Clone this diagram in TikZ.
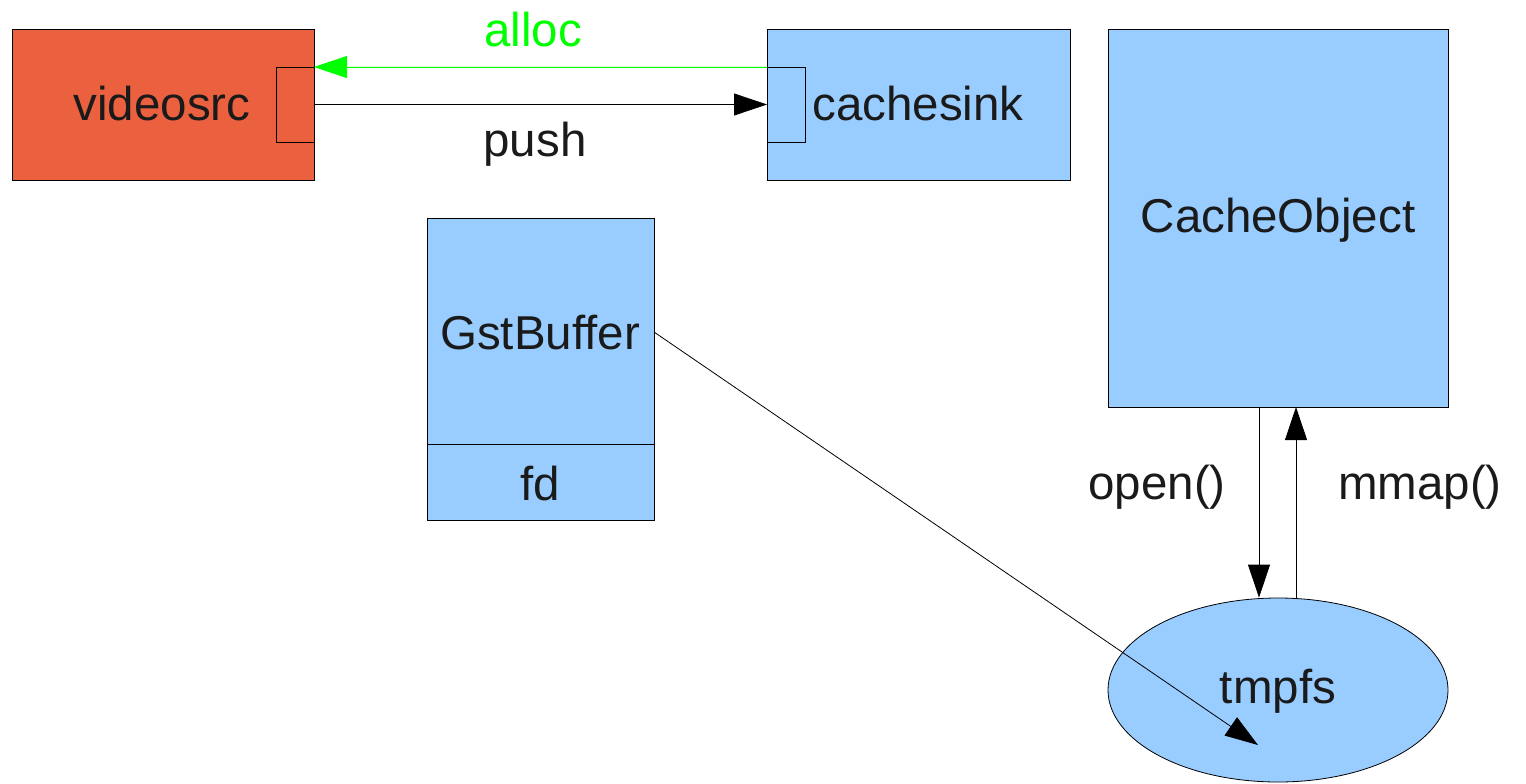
\documentclass[tikz,border=0pt]{standalone}
\usepackage{fontspec}
\setmainfont{Liberation Sans}
\usetikzlibrary{arrows.meta,shapes.geometric}
\definecolor{boxblue}{HTML}{99CCFF}
\definecolor{boxred}{HTML}{EB613F}
\definecolor{txt}{HTML}{1A1A1A}
\definecolor{allocgreen}{HTML}{00FF00}
\tikzset{
  x=1pt,y=-1pt,
  box/.style={draw=black,line width=0.8pt,anchor=north west,inner sep=0pt,outer sep=0pt},
  lbl/.style={font=\fontsize{47.5}{54}\selectfont,text=txt,inner sep=0pt},
  arr/.style={line width=0.8pt,-{Triangle[length=33pt,width=22pt]}},
}
\begin{document}
\begin{tikzpicture}
\useasboundingbox (0,0) rectangle (1526,784);
% boxes
\node[box,fill=boxred,minimum width=302pt,minimum height=151pt] (vs) at (12,29) {};
\node[box,fill=boxred,minimum width=38pt,minimum height=75pt] (vsport) at (276,67) {};
\node[box,fill=boxblue,minimum width=303pt,minimum height=151pt] (cs) at (767,29) {};
\node[box,fill=boxblue,minimum width=38pt,minimum height=75pt] (csport) at (767,67) {};
\node[box,fill=boxblue,minimum width=340pt,minimum height=378pt] (co) at (1108,29) {};
\node[box,fill=boxblue,minimum width=227pt,minimum height=226pt] (gb) at (427,218) {};
\node[box,fill=boxblue,minimum width=227pt,minimum height=76pt] (fd) at (427,444) {};
\node[ellipse,draw=black,line width=0.8pt,fill=boxblue,minimum width=340pt,minimum height=184pt,inner sep=0pt] (tmp) at (1278,690) {};
% labels
\node[lbl] (vsl) at (162,104) {videosrc};
\node[lbl] (csl) at (918,104) {cachesink};
\node[lbl] (col) at (1278,220) {CacheObject};
\node[lbl] (gbl) at (540,333) {GstBuffer};
\node[lbl] (fdl) at (540,484) {fd};
\node[lbl] (tmpl) at (1278,691) {tmpfs};
\node[lbl,text=allocgreen] (allocl) at (533,30) {alloc};
\node[lbl] (pushl) at (535,144) {push};
\node[lbl] (openl) at (1157,487) {open()};
\node[lbl] (mmapl) at (1420,487) {mmap()};
% connectors
\draw[arr,draw=allocgreen,fill=allocgreen,{Triangle[length=33pt,width=22pt]}-] (vsport.north east) -- (csport.north west);
\draw[arr] (vsport.east) -- (csport.west);
\draw[arr] (co.south -| 1259,0) -- (tmp.north -| 1259,0);
\draw[arr] (1296,599) coordinate (mb) -- (mb |- co.south);
\draw[arr] (gb.east |- 0,332) coordinate (gs) -- (1258,745) coordinate (ge);
\end{tikzpicture}
\end{document}
